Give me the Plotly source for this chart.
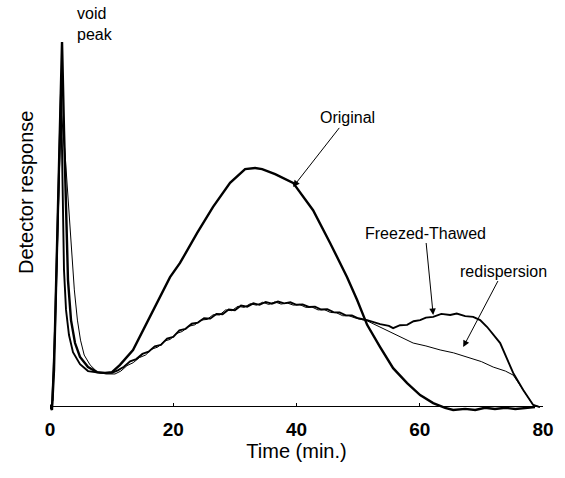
import plotly.graph_objects as go

# Elution profiles (time in min, detector response in arbitrary units)
t_original = [0, 0.32, 0.65, 1.14, 1.62, 1.95, 2.27, 2.6, 2.92, 3.41, 4.06, 4.87, 6.17, 7.63, 8.93,
              10.06, 11.36, 13.47, 15.1, 16.72, 18.18, 19.48, 21.1, 23.86, 26.46, 29.22, 31.66,
              33.28, 34.42, 36.53, 39.45, 42.69, 45.45, 48.21, 49.84, 51.46, 53.57, 55.68, 57.95,
              60.06, 62.18, 64.12, 65.42, 67.37, 69.0, 70.6, 72.2, 73.9, 75.5, 77.1, 78.7]
y_original = [0, -1.1, 9.9, 42.9, 78.6, 100, 75.8, 51.1, 34.6, 23.6, 17.3, 13.5, 10.7, 9.3, 9.1,
              9.3, 11.3, 15.4, 20.9, 26.4, 31.3, 35.4, 39.3, 47.5, 54.7, 61.3, 65.1,
              65.4, 65.1, 63.7, 61.3, 53.8, 44.8, 35.4, 29.1, 22.3, 16.2, 10.4, 6.3,
              3.0, 0.8, -0.5, -1.1, -0.8, -1.1, -0.5, -0.8, -0.5, -0.8, -0.5, -0.3]

t_freeze_thaw = [0, 0.32, 0.81, 1.3, 1.79, 1.95, 2.11, 2.27, 2.6, 3.08, 3.73, 4.87, 6.17, 8.12,
                 10.06, 11.0, 12.0, 13.0, 14.0, 15.0, 16.0, 17.0, 18.0, 19.0, 20.0, 21.0, 22.0,
                 23.0, 24.0, 25.0, 26.0, 27.0, 28.0, 29.0, 30.0, 31.0, 32.0, 33.0, 34.0, 35.0,
                 36.0, 37.0, 38.0, 39.0, 40.0, 41.0, 42.0, 43.0, 44.0, 45.0, 46.0, 47.0, 48.0,
                 49.0, 50.0, 51.46, 53.57, 55.0, 55.68, 56.8, 57.95, 59.0, 60.06, 61.0, 62.18,
                 63.5, 64.94, 66.0, 67.37, 68.67, 69.8, 70.94, 73.05, 75.16, 76.79, 78.41, 79.5]
y_freeze_thaw = [0.3, -0.5, 20.9, 56.6, 86.8, 70.3, 51.1, 37.4, 26.4, 19.5, 14.8, 11.5, 9.6, 9.1,
                 9.1, 9.8, 10.8, 12.3, 12.9, 14.3, 14.9, 16.4, 16.8, 18.5, 19.0, 20.8, 21.2,
                 22.6, 22.9, 24.1, 24.0, 25.3, 25.2, 26.5, 26.3, 27.6, 27.3, 28.2, 27.8, 28.6,
                 28.1, 28.7, 28.2, 28.5, 27.8, 27.9, 27.2, 27.3, 26.5, 26.6, 25.8, 25.7, 24.9,
                 24.9, 24.1, 23.6, 22.5, 22.0, 21.4, 22.2, 22.3, 23.3, 23.6, 24.3, 24.5,
                 25.3, 25.0, 25.4, 24.7, 24.5, 23.6, 21.7, 17.3, 9.1, 4.4, 0.3, -0.3]

t_redispersion = [0.16, 0.49, 0.97, 1.46, 1.79, 2.4, 2.95, 3.45, 3.95, 4.45, 4.95, 5.55, 6.5, 7.7,
                  9.1, 10.55, 11.5, 12.5, 13.5, 14.5, 15.5, 16.5, 17.5, 18.5, 19.5, 20.5, 21.5,
                  22.5, 23.5, 24.5, 25.5, 26.5, 27.5, 28.5, 29.5, 30.5, 31.5, 32.5, 33.5, 34.5,
                  35.5, 36.5, 37.5, 38.5, 39.5, 40.5, 41.5, 42.5, 43.5, 44.5, 45.5, 46.5, 47.5,
                  48.5, 49.5, 51.46, 53.57, 55.68, 58.93, 61.0, 63.31, 65.5, 67.69, 70.0, 71.92,
                  73.9, 75.16, 76.79, 78.41, 79.5]
y_redispersion = [0.3, 1.6, 29.1, 62.1, 81.3, 70.3, 56.6, 42.9, 31.9, 23.6, 18.1, 14.0, 11.3, 9.3,
                  8.8, 8.8, 9.6, 11.1, 11.9, 13.3, 14.0, 15.6, 16.2, 17.8, 18.3, 19.9, 20.5,
                  21.9, 22.3, 23.6, 23.8, 25.1, 25.0, 26.4, 26.2, 27.4, 27.1, 28.1, 27.7, 28.5,
                  27.9, 28.6, 28.0, 28.3, 27.7, 27.9, 27.1, 27.2, 26.4, 26.5, 25.7, 25.6, 24.8,
                  24.8, 24.2, 23.4, 21.7, 20.1, 17.3, 16.5, 15.4, 14.6, 13.5, 12.2, 10.7,
                  9.6, 8.5, 4.4, 0.3, -0.3]

x_ticks = [0, 20, 40, 60, 80]

Y_MIN, Y_MAX = -2.47, 103.3
FONT = "Liberation Sans, Arial, sans-serif"

fig = go.Figure()
fig.add_trace(go.Scatter(x=t_original, y=y_original, mode="lines",
                         line=dict(color="black", width=2.4), name="Original"))
fig.add_trace(go.Scatter(x=t_freeze_thaw, y=y_freeze_thaw, mode="lines",
                         line=dict(color="black", width=1.9), name="Freezed-Thawed"))
fig.add_trace(go.Scatter(x=t_redispersion, y=y_redispersion, mode="lines",
                         line=dict(color="black", width=1.0), name="redispersion"))

arrow_style = dict(showarrow=True, arrowhead=2, arrowsize=1.3, arrowwidth=1,
                   arrowcolor="black", font=dict(family=FONT, size=16, color="black"))
fig.add_annotation(x=39.45, y=60.2, ax=54, ay=-69, text="Original", **arrow_style)
fig.add_annotation(x=62.18, y=25.0, ax=-8, ay=-82, text="Freezed-Thawed", **arrow_style)
fig.add_annotation(x=67.05, y=16.2, ax=40, ay=-76, text="redispersion", **arrow_style)

fig.add_annotation(x=4.0, xref="x", xanchor="left", y=1.0156, yref="paper", yanchor="middle",
                   text="void<br>peak", showarrow=False, align="left",
                   font=dict(family=FONT, size=16, color="black"))
fig.add_annotation(x=-0.075, xref="paper", y=0.5766, yref="paper", textangle=-90,
                   text="Detector response", showarrow=False,
                   font=dict(family=FONT, size=20, color="black"))

fig.update_layout(
    width=565, height=478,
    margin=dict(l=50, r=22, t=30, b=63),
    paper_bgcolor="white", plot_bgcolor="white",
    showlegend=False,
    font=dict(family=FONT, color="black"),
    xaxis=dict(range=[0, 80], anchor="free", position=(0 - Y_MIN) / (Y_MAX - Y_MIN),
               showline=True, linecolor="black", linewidth=1,
               ticks="inside", ticklen=3, tickcolor="black",
               tickvals=x_ticks, ticktext=["<b>%d</b>" % v for v in x_ticks],
               tickfont=dict(family=FONT, size=19, color="black"),
               ticklabelstandoff=6,
               showgrid=False, zeroline=False,
               title=dict(text="Time (min.)", font=dict(family=FONT, size=20, color="black"),
                          standoff=2)),
    yaxis=dict(range=[Y_MIN, Y_MAX], showline=False, showticklabels=False, ticks="",
               showgrid=False, zeroline=False),
)

fig.write_html("out.html")
